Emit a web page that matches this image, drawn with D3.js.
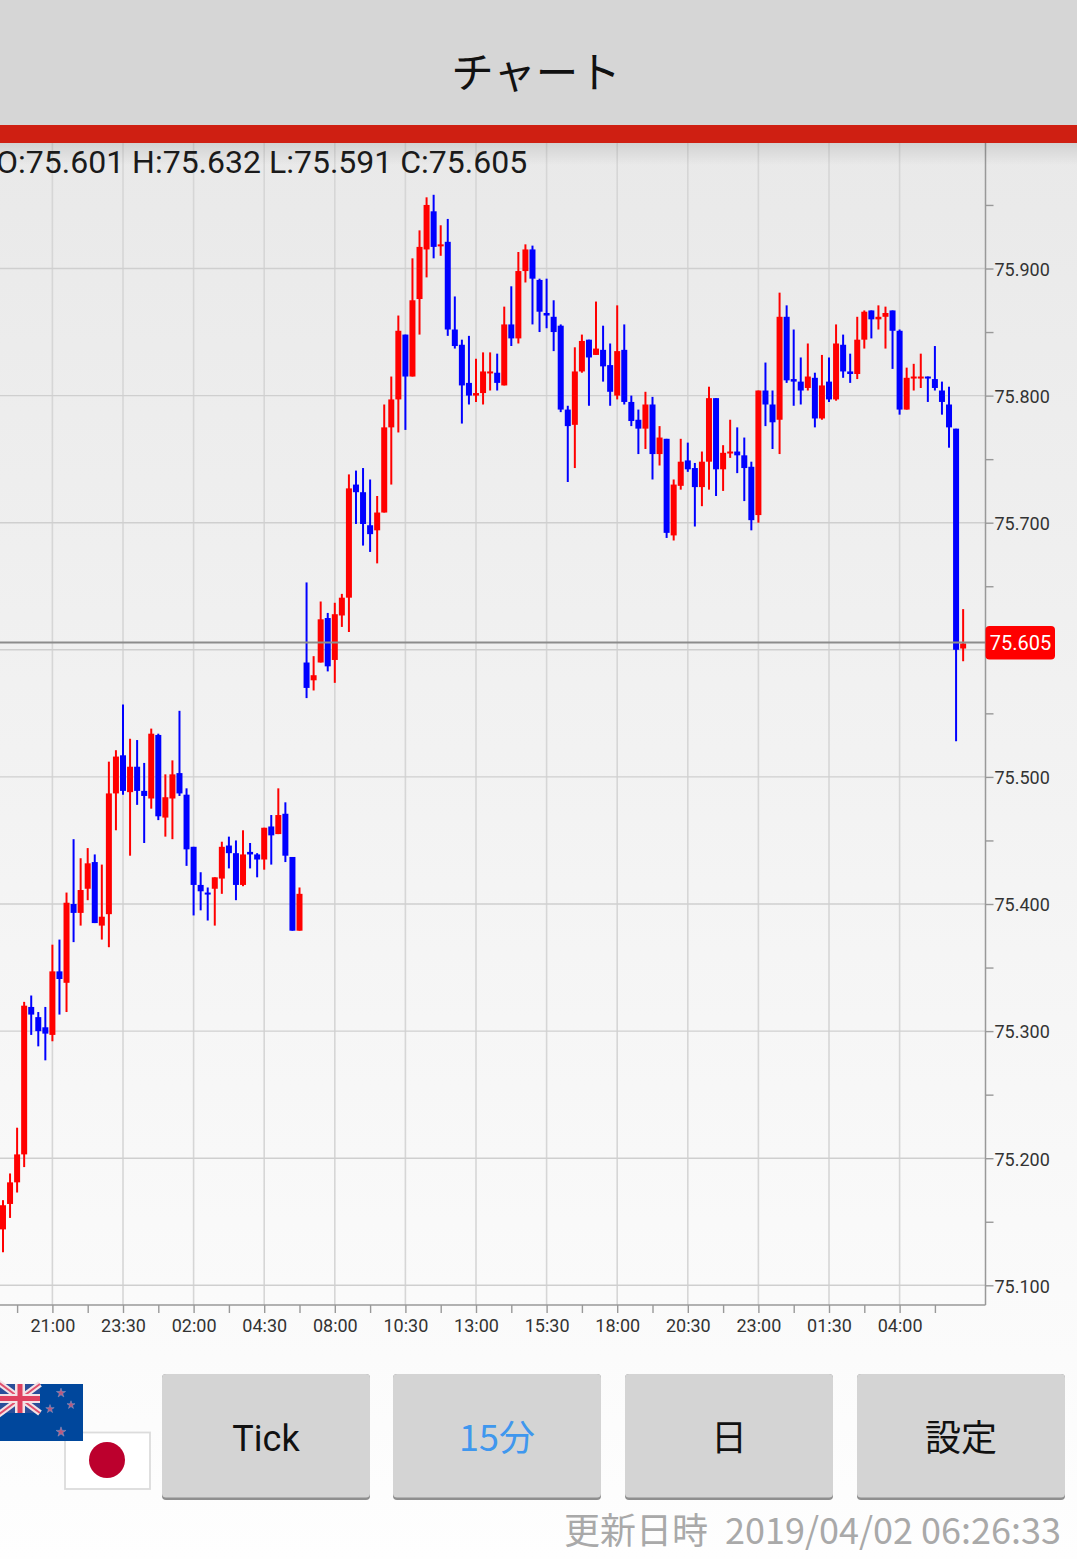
<!DOCTYPE html>
<html lang="ja"><head><meta charset="utf-8">
<script src="https://cdn.jsdelivr.net/npm/d3@7/dist/d3.min.js"></script>
<style>html,body{margin:0;padding:0;background:#fff;overflow:hidden}svg{display:block}</style>
</head><body><svg id="c" width="1077" height="1559"></svg>
<script>
const opens=[75.144,75.164,75.181,75.203,75.319,75.311,75.303,75.297,75.347,75.338,75.400,75.393,75.412,75.433,75.383,75.392,75.487,75.517,75.488,75.508,75.489,75.483,75.533,75.468,75.483,75.503,75.486,75.445,75.415,75.409,75.412,75.420,75.446,75.440,75.415,75.441,75.439,75.435,75.461,75.455,75.471,75.437,75.379,
75.590,75.576,75.590,75.625,75.592,75.627,75.641,75.730,75.724,75.698,75.694,75.708,75.775,75.797,75.848,75.815,75.876,75.915,75.945,75.918,75.921,75.852,75.840,75.810,75.800,75.802,75.818,75.818,75.808,75.856,75.845,75.898,75.915,75.891,75.865,75.862,75.855,75.789,75.777,75.819,75.844,75.832,75.836,75.824,75.800,75.836,75.795,75.781,75.774,75.793,75.754,75.766,75.690,75.729,75.749,75.743,75.728,75.748,75.798,75.742,75.755,75.756,75.753,75.744,75.706,75.804,75.793,75.781,75.862,75.813,75.811,75.806,75.814,75.782,75.811,75.797,75.840,75.819,75.817,75.844,75.867,75.860,75.862,75.867,75.851,75.789,75.814,75.814,75.815,75.813,75.804,75.793,75.774,75.601];
const highs=[75.167,75.188,75.224,75.323,75.328,75.315,75.319,75.368,75.372,75.409,75.451,75.436,75.444,75.439,75.431,75.512,75.521,75.557,75.530,75.529,75.511,75.538,75.534,75.502,75.513,75.552,75.491,75.445,75.425,75.413,75.421,75.449,75.453,75.450,75.458,75.448,75.440,75.460,75.470,75.491,75.480,75.437,75.413,
75.653,75.595,75.638,75.629,75.637,75.644,75.738,75.741,75.743,75.734,75.721,75.793,75.815,75.863,75.848,75.908,75.930,75.956,75.958,75.934,75.939,75.878,75.844,75.847,75.829,75.834,75.834,75.833,75.870,75.886,75.913,75.919,75.918,75.892,75.892,75.875,75.856,75.792,75.838,75.848,75.844,75.874,75.855,75.841,75.871,75.856,75.800,75.789,75.803,75.799,75.776,75.766,75.734,75.766,75.763,75.747,75.756,75.807,75.798,75.761,75.781,75.775,75.767,75.748,75.804,75.826,75.804,75.881,75.871,75.852,75.830,75.841,75.818,75.832,75.830,75.856,75.848,75.833,75.862,75.867,75.867,75.871,75.870,75.867,75.852,75.822,75.825,75.833,75.815,75.839,75.811,75.807,75.774,75.632];
const lows=[75.126,75.153,75.173,75.193,75.297,75.288,75.277,75.292,75.313,75.315,75.370,75.383,75.403,75.385,75.372,75.366,75.458,75.486,75.438,75.478,75.448,75.475,75.466,75.453,75.451,75.485,75.430,75.391,75.395,75.387,75.383,75.408,75.428,75.403,75.414,75.428,75.421,75.427,75.431,75.455,75.433,75.379,75.379,
75.562,75.568,75.590,75.583,75.574,75.618,75.614,75.699,75.682,75.677,75.668,75.708,75.730,75.771,75.773,75.815,75.848,75.893,75.908,75.910,75.847,75.837,75.778,75.793,75.795,75.793,75.804,75.804,75.808,75.839,75.841,75.889,75.856,75.850,75.853,75.835,75.787,75.732,75.743,75.818,75.792,75.832,75.811,75.792,75.797,75.793,75.776,75.754,75.758,75.734,75.745,75.688,75.686,75.726,75.740,75.697,75.713,75.726,75.721,75.725,75.751,75.739,75.717,75.694,75.700,75.776,75.758,75.754,75.810,75.792,75.793,75.804,75.775,75.781,75.795,75.796,75.814,75.810,75.813,75.837,75.845,75.852,75.837,75.821,75.785,75.789,75.804,75.806,75.795,75.804,75.785,75.759,75.528,75.591];
const closes=[75.163,75.181,75.203,75.320,75.313,75.300,75.298,75.347,75.341,75.401,75.393,75.411,75.432,75.385,75.390,75.487,75.516,75.489,75.508,75.489,75.485,75.534,75.469,75.484,75.502,75.487,75.443,75.415,75.410,75.408,75.421,75.445,75.440,75.415,75.439,75.439,75.435,75.460,75.454,75.470,75.438,75.379,75.408,
75.570,75.580,75.624,75.587,75.628,75.641,75.727,75.724,75.699,75.691,75.708,75.775,75.797,75.851,75.815,75.875,75.917,75.950,75.917,75.919,75.852,75.839,75.808,75.800,75.802,75.819,75.819,75.810,75.856,75.845,75.898,75.915,75.892,75.866,75.863,75.850,75.789,75.776,75.819,75.843,75.830,75.837,75.823,75.803,75.835,75.795,75.780,75.774,75.793,75.754,75.767,75.692,75.730,75.748,75.742,75.728,75.748,75.798,75.742,75.755,75.756,75.753,75.743,75.702,75.804,75.793,75.779,75.862,75.812,75.811,75.804,75.815,75.782,75.808,75.797,75.841,75.819,75.817,75.844,75.866,75.860,75.862,75.865,75.851,75.789,75.814,75.815,75.815,75.814,75.806,75.795,75.775,75.600,75.605];
const firstIndex=-7;
const xTickIndex=[-5,0,5,10,15,20,25,30,35,40,45,50,55,60,65,70,75,80,85,90,95,100,105,110,115,120,125];
const xTickLabels=["","21:00","","23:30","","02:00","","04:30","","08:00","","10:30","","13:00","","15:30","","18:00","","20:30","","23:00","","01:30","","04:00",""];
const yMajor=[75.1,75.2,75.3,75.4,75.5,75.6,75.7,75.8,75.9];
const yLabelled=["75.100","75.200","75.300","75.400","75.500","","75.700","75.800","75.900"];
const yMinor=[75.15,75.25,75.35,75.45,75.55,75.65,75.75,75.85,75.95];
const lastPrice=75.6058;
const ohlcText="O:75.601 H:75.632 L:75.591 C:75.605";
const buttons=["Tick","15分","日","設定"];
const updatedLabel="更新日時";
const updatedTime="2019/04/02 06:26:33";

const UP="#ff0000",DOWN="#0000ff",ROBOTO="Roboto,sans-serif",CJK="'Noto Sans CJK JP',sans-serif";
const svg=d3.select("#c");
const defs=svg.append("defs");
const g1=defs.append("linearGradient").attr("id","bg").attr("x1",0).attr("x2",0).attr("y1",0).attr("y2",1);
g1.append("stop").attr("offset",0).attr("stop-color","#e9e9e9");
g1.append("stop").attr("offset",1).attr("stop-color","#fefefe");
const g2=defs.append("linearGradient").attr("id","sh").attr("x1",0).attr("x2",0).attr("y1",0).attr("y2",1);
g2.append("stop").attr("offset",0).attr("stop-color","#000").attr("stop-opacity",.1);
g2.append("stop").attr("offset",1).attr("stop-color","#000").attr("stop-opacity",0);
svg.append("rect").attr("x",0).attr("y",143).attr("width",1077).attr("height",1416).attr("fill","url(#bg)");

const x=d3.scaleLinear().domain([0,120]).range([52.4,899.6]);
const y=d3.scaleLinear().domain([75.1,75.9]).range([1285.3,268.5]);
const plotR=985.5,plotB=1305,plotT=143;

const grid=svg.append("g");
grid.selectAll("line.v").data(xTickIndex.filter((d,i)=>xTickLabels[i])).join("line").attr("class","v")
  .attr("x1",d=>x(d)).attr("x2",d=>x(d)).attr("y1",plotT).attr("y2",plotB).attr("stroke","#d6d6d6").attr("stroke-width",1.6);
grid.selectAll("line.h").data(yMajor).join("line").attr("class","h")
  .attr("x1",0).attr("x2",plotR).attr("y1",d=>y(d)).attr("y2",d=>y(d)).attr("stroke","#cfcfcf").attr("stroke-width",1.4);

const yAxis=d3.axisRight(y).tickValues(yMajor).tickSize(8).tickPadding(1).tickFormat((d,i)=>yLabelled[i]);
const yA=svg.append("g").attr("transform",`translate(${plotR},0)`).call(yAxis);
const yB=svg.append("g").attr("transform",`translate(${plotR},0)`).call(d3.axisRight(y).tickValues(yMinor).tickSize(8).tickFormat(""));
const xAxis=d3.axisBottom(x).tickValues(xTickIndex).tickSize(8).tickPadding(6).tickFormat((d,i)=>xTickLabels[i]);
const xA=svg.append("g").attr("transform",`translate(0,${plotB})`).call(xAxis);
[yA,yB,xA].forEach(a=>{a.selectAll(".domain").remove();a.selectAll("line").attr("stroke","#999").attr("stroke-width",1.4);
  a.selectAll("text").attr("fill","#333").style("font-family",ROBOTO).style("font-size","18px");});
yA.selectAll("text").attr("dy","0.38em");
svg.append("line").attr("x1",plotR).attr("x2",plotR).attr("y1",plotT).attr("y2",plotB).attr("stroke","#999").attr("stroke-width",1.5);
svg.append("line").attr("x1",0).attr("x2",plotR).attr("y1",plotB).attr("y2",plotB).attr("stroke","#999").attr("stroke-width",1.5);

const candles=d3.range(opens.length).map(i=>({i:i+firstIndex,o:opens[i],h:highs[i],l:lows[i],c:closes[i]}));
const cg=svg.append("g").selectAll("g").data(candles).join("g");
cg.append("line").attr("x1",d=>x(d.i)).attr("x2",d=>x(d.i)).attr("y1",d=>y(d.h)).attr("y2",d=>y(d.l))
  .attr("stroke",d=>d.c>=d.o?UP:DOWN).attr("stroke-width",2);
cg.append("rect").attr("x",d=>x(d.i)-3).attr("width",6)
  .attr("y",d=>y(Math.max(d.o,d.c))).attr("height",d=>Math.max(2,Math.abs(y(d.o)-y(d.c))))
  .attr("fill",d=>d.c>=d.o?UP:DOWN);

svg.append("line").attr("x1",0).attr("x2",plotR).attr("y1",y(lastPrice)).attr("y2",y(lastPrice)).attr("stroke","#8c8c8c").attr("stroke-width",2);
svg.append("rect").attr("x",985.5).attr("y",y(lastPrice)-16.5).attr("width",69.5).attr("height",33.5).attr("rx",4).attr("fill","#ff0000");
svg.append("text").attr("x",1020.5).attr("y",y(lastPrice)+7.5).attr("text-anchor","middle").attr("fill","#fff")
  .style("font-family",ROBOTO).style("font-size","20px").text(d3.format(".3f")(75.605));

// header
svg.append("rect").attr("x",0).attr("y",0).attr("width",1077).attr("height",125).attr("fill","#d6d6d6");
svg.append("rect").attr("x",0).attr("y",125).attr("width",1077).attr("height",18).attr("fill","#cf1f12");
svg.append("rect").attr("x",0).attr("y",143).attr("width",1077).attr("height",22).attr("fill","url(#sh)");
svg.append("text").attr("x",536).attr("y",88).attr("text-anchor","middle").attr("fill","#111")
  .style("font-family",CJK).style("font-size","42.5px").text("チャート");
svg.append("text").attr("x",-4).attr("y",173).attr("fill","#1a1a1a").style("font-family",ROBOTO).style("font-size","32px").text(ohlcText);

// flags
const nz=svg.append("g");
nz.append("rect").attr("x",0).attr("y",1384).attr("width",83).attr("height",57).attr("fill","#00479c");
const uj=nz.append("g");
uj.append("rect").attr("x",0).attr("y",1384).attr("width",40).attr("height",29).attr("fill","#2a4f9a");
[[[-2,1382],[40,1413]],[[-2,1415],[40,1384]]].forEach(p=>uj.append("line").attr("x1",p[0][0]).attr("y1",p[0][1]).attr("x2",p[1][0]).attr("y2",p[1][1]).attr("stroke","#f3e3e6").attr("stroke-width",6));
[[[-2,1382],[40,1413]],[[-2,1415],[40,1384]]].forEach(p=>uj.append("line").attr("x1",p[0][0]).attr("y1",p[0][1]).attr("x2",p[1][0]).attr("y2",p[1][1]).attr("stroke","#e0506e").attr("stroke-width",2));
uj.append("rect").attr("x",15).attr("y",1384).attr("width",10).attr("height",29).attr("fill","#f3e3e6");
uj.append("rect").attr("x",0).attr("y",1394).attr("width",40).attr("height",9).attr("fill","#f3e3e6");
uj.append("rect").attr("x",17.5).attr("y",1384).attr("width",5).attr("height",29).attr("fill","#e0405f");
uj.append("rect").attr("x",0).attr("y",1396).attr("width",40).attr("height",5).attr("fill","#e0405f");
const star=d3.symbol().type(d3.symbolStar);
[[61,1393,26],[50,1409,22],[71,1405,20],[61,1432,30]].forEach(s=>nz.append("path").attr("d",star.size(s[2])()).attr("transform",`translate(${s[0]},${s[1]})`).attr("fill","#b85a80").attr("stroke","#8fa0c8").attr("stroke-width",.5));
svg.append("rect").attr("x",65).attr("y",1432.5).attr("width",85).attr("height",56.5).attr("fill","#fff").attr("stroke","#dcdcdc").attr("stroke-width",1.8);
nz.raise();
svg.append("circle").attr("cx",107).attr("cy",1460).attr("r",18).attr("fill","#bc002d");

// buttons
const btnX=[162,393,625,857];
const bg=svg.append("g").selectAll("g").data(buttons).join("g");
bg.append("rect").attr("x",(d,i)=>btnX[i]).attr("y",1374).attr("width",208).attr("height",126).attr("rx",4).attr("fill","#8f8f8f");
bg.append("rect").attr("x",(d,i)=>btnX[i]).attr("y",1374).attr("width",208).attr("height",123.5).attr("rx",4).attr("fill","#d4d4d4");
bg.append("text").attr("x",(d,i)=>btnX[i]+104).attr("y",1451).attr("text-anchor","middle")
  .attr("fill",(d,i)=>i==1?"#3f97ee":"#111").style("font-family",(d,i)=>i==0?ROBOTO:CJK).style("font-size","36px").text(d=>d);

svg.append("text").attr("x",708).attr("y",1544).attr("text-anchor","end").attr("fill","#a9a9a9")
  .style("font-family",CJK).style("font-size","36px").text(updatedLabel);
svg.append("text").attr("x",1061).attr("y",1544).attr("text-anchor","end").attr("fill","#a9a9a9")
  .style("font-family",CJK).style("font-size","36px").text(updatedTime);
</script></body></html>
